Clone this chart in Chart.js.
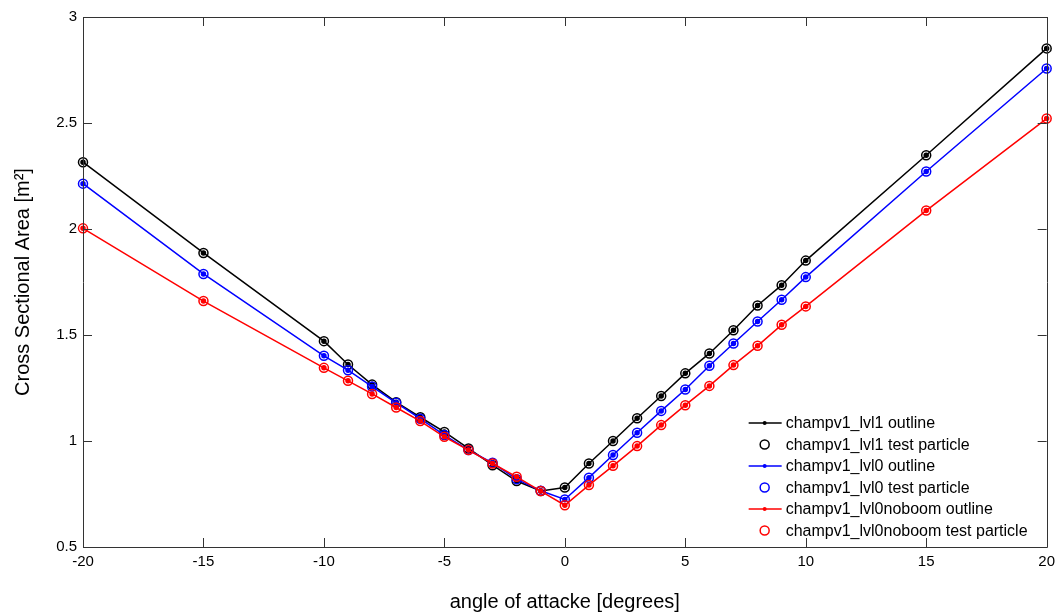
<!DOCTYPE html>
<html>
<head>
<meta charset="utf-8">
<script src="https://cdn.jsdelivr.net/npm/chart.js@4"></script>
<style>
html, body { margin: 0; padding: 0; background: #fff; }
#wrap { width: 1061px; height: 616px; }
</style>
</head>
<body>
<div id="wrap"><canvas id="myChart"></canvas></div>
<script>
var angles = [-20, -15, -10, -9, -8, -7, -6, -5, -4, -3, -2, -1, 0, 1, 2, 3, 4, 5, 6, 7, 8, 9, 10, 15, 20];
var lvl1 = [2.315, 1.887, 1.471, 1.361, 1.266, 1.183, 1.112, 1.043, 0.965, 0.886, 0.811, 0.764, 0.781, 0.894, 1.0, 1.107, 1.212, 1.319, 1.413, 1.522, 1.639, 1.735, 1.851, 2.348, 2.852];
var lvl0 = [2.214, 1.788, 1.402, 1.334, 1.257, 1.180, 1.105, 1.028, 0.957, 0.897, 0.820, 0.765, 0.724, 0.827, 0.934, 1.039, 1.142, 1.243, 1.355, 1.460, 1.564, 1.666, 1.773, 2.271, 2.757];
var noboom = [2.003, 1.660, 1.345, 1.284, 1.222, 1.158, 1.094, 1.020, 0.957, 0.894, 0.831, 0.764, 0.697, 0.792, 0.883, 0.976, 1.075, 1.169, 1.260, 1.358, 1.449, 1.548, 1.635, 2.087, 2.521];

var xTicks = [-20, -15, -10, -5, 0, 5, 10, 15, 20];
var yTicks = [0.5, 1, 1.5, 2, 2.5, 3];

function pts(vals) {
    return angles.map(function (a, i) { return { x: a, y: vals[i] }; });
}

function outline(label, vals, color, order) {
    return {
        label: label, data: pts(vals), borderColor: color, backgroundColor: color,
        borderWidth: 1.5, pointRadius: 2, pointStyle: 'circle', showLine: true,
        clip: false, order: order, kind: 'line'
    };
}
function particle(label, vals, color, order) {
    return {
        label: label, data: pts(vals), borderColor: color, backgroundColor: 'rgba(0,0,0,0)',
        borderWidth: 1.5, pointRadius: 4.5, pointStyle: 'circle', showLine: false,
        clip: false, order: order, kind: 'marker'
    };
}

// box with inward ticks on all four sides, and the legend bottom-right
var matlabAxes = {
    id: 'matlabAxes',
    afterDraw: function (chart) {
        var c = chart.ctx, a = chart.chartArea;
        var xs = chart.scales.x, ys = chart.scales.y;
        var tl = 9;
        c.save();
        c.strokeStyle = '#333';
        c.lineWidth = 1;
        c.beginPath();
        c.rect(Math.round(a.left) + 0.5, Math.round(a.top) + 0.5,
               Math.round(a.right - a.left), Math.round(a.bottom - a.top));
        xTicks.forEach(function (v) {
            var px = Math.round(xs.getPixelForValue(v)) + 0.5;
            c.moveTo(px, a.bottom); c.lineTo(px, a.bottom - tl);
            c.moveTo(px, a.top); c.lineTo(px, a.top + tl);
        });
        yTicks.forEach(function (v) {
            var py = Math.round(ys.getPixelForValue(v)) + 0.5;
            c.moveTo(a.left, py); c.lineTo(a.left + tl, py);
            c.moveTo(a.right, py); c.lineTo(a.right - tl, py);
        });
        c.stroke();

        // legend
        var x0 = a.right - 298, rowH = 21.5;
        var y0 = a.bottom - 16.5 - rowH * 5;
        c.font = '16px "Liberation Sans", Arial, sans-serif';
        c.textBaseline = 'middle';
        c.textAlign = 'left';
        chart.data.datasets.forEach(function (ds, i) {
            var y = y0 + i * rowH;
            var mid = x0 + 16;
            c.strokeStyle = ds.borderColor;
            c.fillStyle = ds.borderColor;
            c.lineWidth = 1.5;
            if (ds.kind === 'line') {
                c.beginPath(); c.moveTo(x0, y); c.lineTo(x0 + 33, y); c.stroke();
                c.beginPath(); c.arc(mid, y, 2, 0, Math.PI * 2); c.fill();
            } else {
                c.beginPath(); c.arc(mid, y, 4.5, 0, Math.PI * 2); c.stroke();
            }
            c.fillStyle = '#000';
            c.fillText(ds.label, x0 + 37, y + 1);
        });
        c.restore();
    }
};

var ctx = document.getElementById('myChart').getContext('2d');
var myChart = new Chart(ctx, {
    type: 'scatter',
    data: {
        datasets: [
            outline('champv1_lvl1 outline', lvl1, '#000000', 6),
            particle('champv1_lvl1 test particle', lvl1, '#000000', 5),
            outline('champv1_lvl0 outline', lvl0, '#0000ff', 4),
            particle('champv1_lvl0 test particle', lvl0, '#0000ff', 3),
            outline('champv1_lvl0noboom outline', noboom, '#ff0000', 2),
            particle('champv1_lvl0noboom test particle', noboom, '#ff0000', 1)
        ]
    },
    options: {
        responsive: true,
        maintainAspectRatio: false,
        animation: false,
        events: [],
        layout: { padding: { top: 17, right: 11, left: 0, bottom: 0 } },
        plugins: {
            legend: { display: false },
            tooltip: { enabled: false }
        },
        scales: {
            x: {
                type: 'linear',
                min: -20, max: 20,
                afterBuildTicks: function (s) { s.ticks = xTicks.map(function (v) { return { value: v }; }); },
                afterFit: function (s) { s.height = 69; },
                grid: { display: false, drawTicks: false },
                border: { display: false },
                ticks: {
                    color: '#000', padding: 6,
                    callback: function (v) { return String(v); },
                    font: { family: '"Liberation Sans", Arial, sans-serif', size: 15 }
                },
                title: {
                    display: true,
                    text: 'angle of attacke [degrees]',
                    color: '#000',
                    padding: { top: 0, bottom: 2 },
                    font: { family: '"Liberation Sans", Arial, sans-serif', size: 20 }
                }
            },
            y: {
                type: 'linear',
                min: 0.5, max: 3,
                afterBuildTicks: function (s) { s.ticks = yTicks.map(function (v) { return { value: v }; }); },
                afterFit: function (s) { s.width = 83; },
                grid: { display: false, drawTicks: false },
                border: { display: false },
                ticks: {
                    color: '#000', padding: 6,
                    callback: function (v) { return String(v); },
                    font: { family: '"Liberation Sans", Arial, sans-serif', size: 15 }
                },
                title: {
                    display: true,
                    text: 'Cross Sectional Area [m²]',
                    color: '#000',
                    padding: { top: 11, bottom: 0 },
                    font: { family: '"Liberation Sans", Arial, sans-serif', size: 20 }
                }
            }
        }
    },
    plugins: [matlabAxes]
});
</script>
</body>
</html>
